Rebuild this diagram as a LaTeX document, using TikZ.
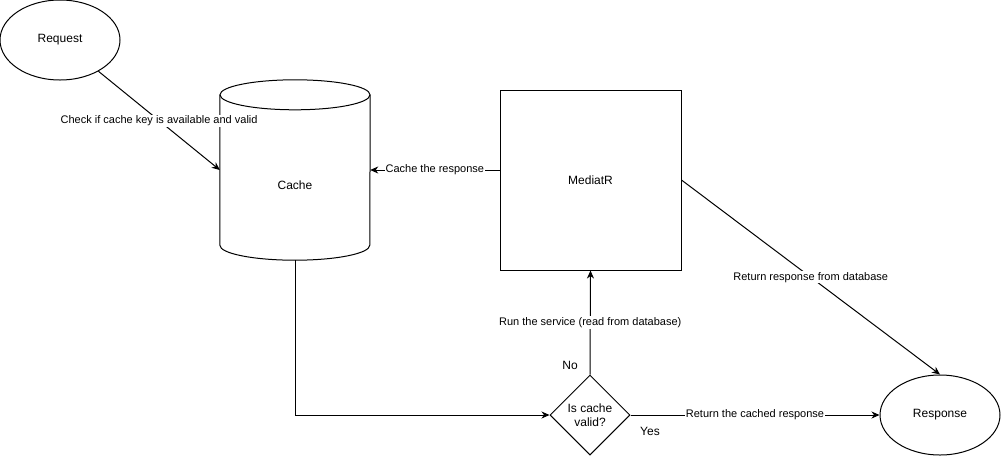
\documentclass[tikz,border=0pt]{standalone}
\usepackage{fontspec}
\setmainfont{Liberation Sans}
\usetikzlibrary{positioning, shapes.geometric, arrows.meta}
\tikzset{
    >={Stealth[length=8pt,width=7pt,inset=2.5pt]},
    every node/.style={font=\fontsize{12}{14}\selectfont},
    ellip/.style={ellipse, draw, line width=1pt, minimum width=120, minimum height=80},
    box/.style={rectangle, draw, line width=1pt, minimum width=181, minimum height=180},
    can/.style={rectangle, minimum width=150, minimum height=180},
    decision/.style={diamond, draw, line width=1pt, minimum width=80, minimum height=80, inner sep=0pt, align=center},
    lbl/.style={fill=white, inner sep=1pt, font=\fontsize{11}{13}\selectfont},
    link/.style={->, line width=1pt},
}

\begin{document}
\begin{tikzpicture}[x=1pt, y=-1pt]
\useasboundingbox (0,0) rectangle (1001,456);

\node[ellip] (req) at (60,40) {Request};
\node[can] (cache) at (295,170) {};
\node (cachetxt) at ([yshift=-15pt]cache.center) {Cache};
\node[box] (med) at (590.5,180) {MediatR};
\node[decision] (dia) at (590,415) {Is cache\\valid?};
\node[ellip] (resp) at (940,415) {Response};

% cylinder outline
\draw[line width=1pt] ([yshift=-15pt]cache.north) ellipse [x radius=75pt, y radius=15pt];
\draw[line width=1pt] ([yshift=-15pt]cache.north west) -- ([yshift=15pt]cache.south west)
    arc[start angle=180, end angle=360, x radius=75pt, y radius=15pt] -- ([yshift=-15pt]cache.north east);

\draw[link] (req) -- node[lbl]{Check if cache key is available and valid} (cache.west);
\draw[link] (med.west |- cache.east) -- node[lbl]{Cache the response} (cache.east);
\draw[link] (cache.south) |- (dia.west);
\draw[link] (dia.north) -- node[lbl]{Run the service (read from database)} (med.south);
\draw[link] (dia.east) -- node[lbl]{Return the cached response} (resp.west);
\draw[link] (med.east) -- node[lbl]{Return response from database} (resp.north);

\node (no) at (570,365) {No};
\node (yes) at (650,431) {Yes};

\end{tikzpicture}
\end{document}
